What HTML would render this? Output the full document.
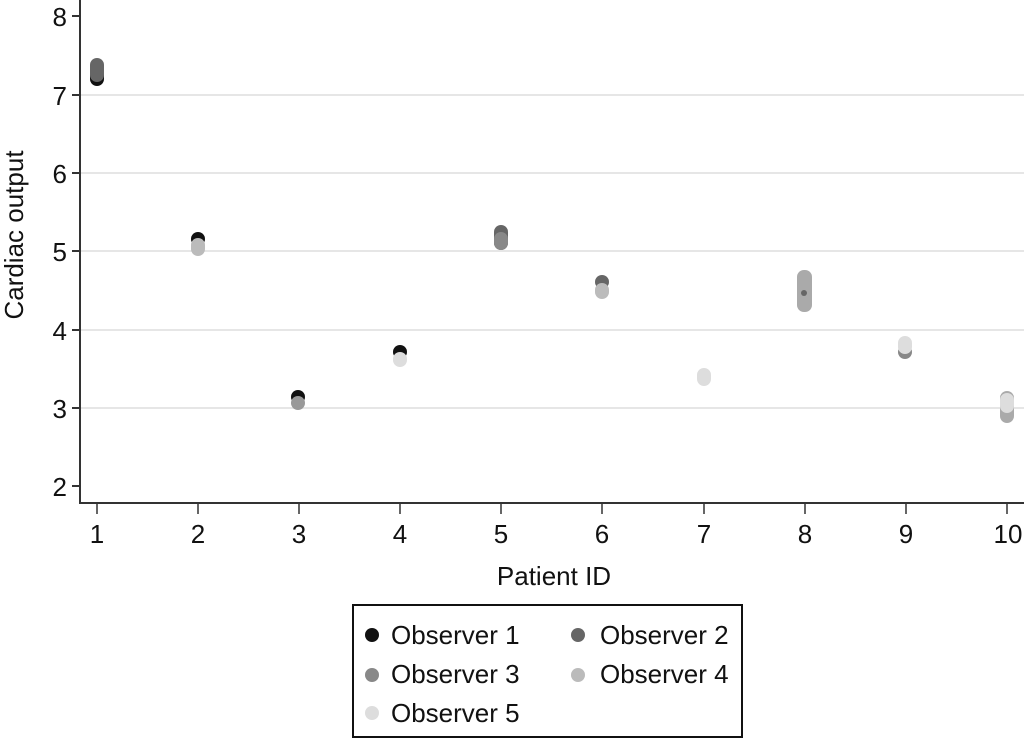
<!DOCTYPE html>
<html><head><style>body{margin:0;background:#fff}</style></head><body>
<svg width="1024" height="739" xmlns="http://www.w3.org/2000/svg" font-family="Liberation Sans, sans-serif">
<rect width="1024" height="739" fill="#fff"/>
<g stroke="#e6e6e6" stroke-width="2">
<line x1="81" x2="1024" y1="95" y2="95"/><line x1="81" x2="1024" y1="173" y2="173"/>
<line x1="81" x2="1024" y1="251" y2="251"/><line x1="81" x2="1024" y1="330" y2="330"/>
<line x1="81" x2="1024" y1="408" y2="408"/>
</g>
<g stroke="#333" stroke-width="2">
<line x1="80" y1="0" x2="80" y2="504"/><line x1="79" y1="503" x2="1024" y2="503"/>
<line x1="72" x2="80" y1="16" y2="16"/><line x1="72" x2="80" y1="95" y2="95"/><line x1="72" x2="80" y1="173" y2="173"/>
<line x1="72" x2="80" y1="251" y2="251"/><line x1="72" x2="80" y1="330" y2="330"/><line x1="72" x2="80" y1="408" y2="408"/><line x1="72" x2="80" y1="486" y2="486"/>
</g>
<g stroke="#333" stroke-width="1.5">
<line x1="97" x2="97" y1="504" y2="514"/><line x1="198" x2="198" y1="504" y2="514"/><line x1="299" x2="299" y1="504" y2="514"/>
<line x1="400" x2="400" y1="504" y2="514"/><line x1="501" x2="501" y1="504" y2="514"/><line x1="602" x2="602" y1="504" y2="514"/>
<line x1="704" x2="704" y1="504" y2="514"/><line x1="805" x2="805" y1="504" y2="514"/><line x1="906" x2="906" y1="504" y2="514"/><line x1="1007" x2="1007" y1="504" y2="514"/>
</g>
<g font-size="26" fill="#111" text-anchor="end">
<text x="67" y="26">8</text><text x="67" y="105">7</text><text x="67" y="183">6</text><text x="67" y="261">5</text>
<text x="67" y="340">4</text><text x="67" y="418">3</text><text x="67" y="496">2</text>
</g>
<g font-size="26" fill="#111" text-anchor="middle">
<text x="97" y="543">1</text><text x="198" y="543">2</text><text x="299" y="543">3</text><text x="400" y="543">4</text><text x="501" y="543">5</text>
<text x="602" y="543">6</text><text x="704" y="543">7</text><text x="805" y="543">8</text><text x="906" y="543">9</text><text x="1008" y="543">10</text>
<text x="554" y="585">Patient ID</text>
<text transform="translate(23,235) rotate(-90)">Cardiac output</text>
</g>
<g>
<rect x="90" y="60" width="14" height="26" rx="7" fill="#111"/>
<rect x="90" y="58" width="14" height="24" rx="7" fill="#666"/>
<circle cx="198" cy="239" r="7" fill="#111"/><rect x="191" y="238" width="14" height="18" rx="7" fill="#bbb"/>
<circle cx="298" cy="397" r="7" fill="#111"/><rect x="291" y="396" width="14" height="14" rx="7" fill="#999"/>
<circle cx="400" cy="352" r="7" fill="#111"/><rect x="393" y="352" width="14" height="15" rx="7" fill="#ddd"/>
<rect x="494" y="225" width="14" height="25" rx="7" fill="#666"/><rect x="494" y="232" width="14" height="18" rx="7" fill="#888"/>
<circle cx="602" cy="282" r="7" fill="#666"/><rect x="595" y="283" width="14" height="16" rx="7" fill="#bbb"/>
<rect x="697" y="368" width="14" height="18" rx="7" fill="#ddd"/>
<rect x="797" y="270" width="15" height="42" rx="7" fill="#aaa"/><circle cx="804" cy="293" r="3" fill="#666"/>
<circle cx="905" cy="352" r="7" fill="#888"/><rect x="898" y="336" width="14" height="18" rx="7" fill="#ddd"/>
<rect x="1000" y="391" width="14" height="32" rx="7" fill="#aaa"/><rect x="1000" y="393" width="14" height="20" rx="7" fill="#ddd"/>
</g>
<rect x="353" y="605" width="389" height="132" fill="#fff" stroke="#111" stroke-width="2"/>
<g font-size="26" fill="#111">
<circle cx="372" cy="635" r="7" fill="#111"/><text x="391" y="644">Observer 1</text>
<circle cx="578" cy="635" r="7" fill="#666"/><text x="600" y="644">Observer 2</text>
<circle cx="372" cy="675" r="7" fill="#888"/><text x="391" y="683">Observer 3</text>
<circle cx="578" cy="675" r="7" fill="#bbb"/><text x="600" y="683">Observer 4</text>
<circle cx="372" cy="713" r="7" fill="#ddd"/><text x="391" y="722">Observer 5</text>
</g>
</svg>
</body></html>
